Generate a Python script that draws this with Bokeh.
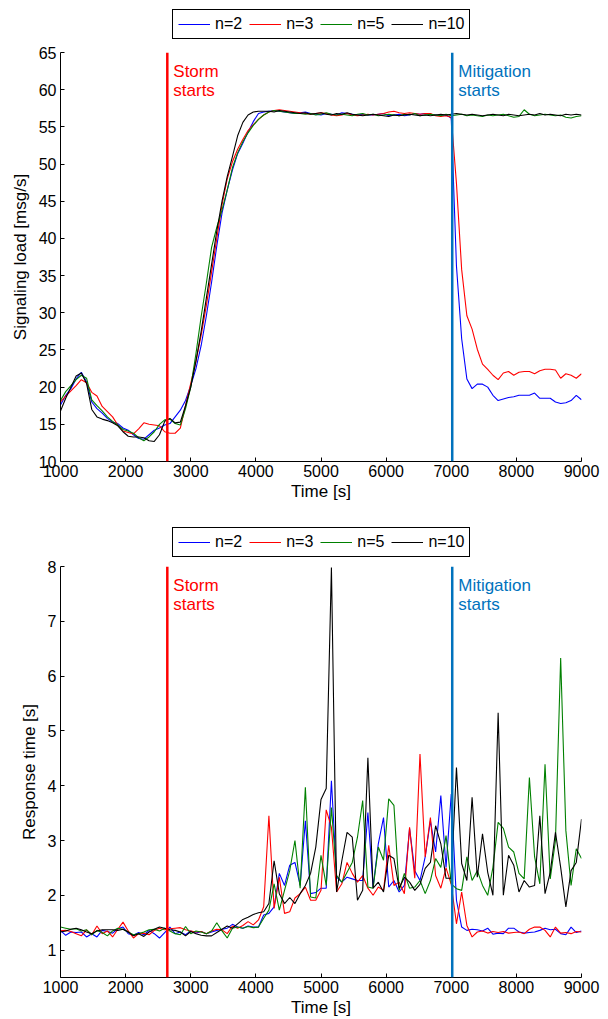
from bokeh.plotting import figure
from bokeh.models import Span, Label, Legend, LegendItem, FixedTicker, Range1d
from bokeh.layouts import column
from bokeh.embed import file_html
from bokeh.resources import INLINE

# ---------------- data ----------------
time_s = list(range(1000, 9001, 80))  # sampling grid (101 samples)
series_names = ["n=2", "n=3", "n=5", "n=10"]
x_ticks = [1000, 2000, 3000, 4000, 5000, 6000, 7000, 8000, 9000]
load_ticks = [10, 15, 20, 25, 30, 35, 40, 45, 50, 55, 60, 65]
resp_ticks = [1, 2, 3, 4, 5, 6, 7, 8]
storm_t = 2640
mitigation_t = 7015

load_n2 = [17.6, 18.9, 19.8, 21.1, 22.0, 20.7, 18.0, 17.1, 16.5, 15.8,
           15.3, 15.1, 14.5, 14.2, 13.6, 13.1, 13.0, 13.6, 14.2, 14.5,
           14.9, 15.1, 16.0, 16.9, 18.2, 20.2, 22.5, 25.6, 29.6, 34.1,
           39.0, 43.4, 46.5, 49.2, 51.4, 52.8, 54.3, 55.7, 56.8, 57.0,
           57.1, 57.2, 57.1, 57.0, 56.9, 56.8, 56.9, 57.0, 56.8, 56.7,
           56.6, 56.8, 56.7, 56.6, 56.9, 56.8, 56.7, 56.6, 56.7, 56.6,
           56.6, 56.7, 56.8, 56.5, 56.6, 56.7, 56.5, 56.6, 56.8, 56.7,
           56.8, 56.7, 56.6, 56.5, 56.6, 56.2, 36.3, 26.5, 21.1, 19.8,
           20.4, 20.4, 20.0, 18.9, 18.2, 18.4, 18.6, 18.7, 18.9, 18.9,
           18.9, 19.2, 18.5, 18.5, 18.5, 18.0, 17.8, 17.9, 18.2, 18.9,
           18.3]
load_n3 = [18.0, 18.8, 19.5, 20.2, 21.0, 20.6, 19.3, 18.8, 17.4, 16.7,
           16.0, 14.9, 14.1, 13.9, 13.7, 14.4, 15.2, 15.0, 14.9, 14.8,
           14.0, 13.8, 13.8, 14.5, 17.5, 20.5, 23.5, 27.0, 31.0, 35.5,
           40.0, 44.5, 48.0, 50.3, 52.0, 53.3, 54.5, 55.3, 56.0, 56.6,
           57.0, 57.2, 57.3, 57.2, 57.1, 57.0, 56.9, 56.8, 56.7, 56.8,
           56.9, 56.8, 56.6, 56.5, 56.6, 56.8, 56.6, 56.5, 56.6, 56.7,
           56.6, 56.7, 56.8, 57.0, 57.1, 56.9, 56.8, 56.9, 56.8, 56.7,
           56.8, 56.8, 56.5, 56.4, 56.5, 56.3, 47.4, 35.8, 29.6, 27.8,
           25.1, 23.1, 22.4, 21.6, 21.0, 21.9, 22.1, 21.6, 22.0, 22.1,
           22.1, 21.8, 22.2, 22.4, 22.4, 22.3, 21.2, 21.8, 21.6, 21.2,
           21.8]
load_n5 = [18.2, 19.4, 20.2, 21.0, 21.6, 21.2, 18.3, 17.5, 16.8, 16.0,
           15.4, 14.9, 14.3, 14.1, 13.8, 13.2, 12.8, 13.3, 14.0, 15.0,
           15.6, 15.7, 15.1, 14.9, 17.1, 20.0, 24.5, 29.5, 34.0, 38.8,
           41.5, 43.8, 46.5, 49.5, 51.5, 53.0, 54.2, 55.2, 56.0, 56.6,
           57.0, 57.2, 57.1, 57.0, 56.9, 56.8, 56.8, 56.7, 56.8, 56.6,
           56.7, 56.9, 56.7, 56.6, 56.7, 56.6, 56.5, 56.7, 56.8, 56.6,
           56.7, 56.5, 56.6, 56.7, 56.6, 56.5, 56.7, 56.6, 56.8, 56.5,
           56.6, 56.7, 56.6, 56.5, 56.7, 56.5, 56.6, 56.7, 56.5, 56.6,
           56.5, 56.4, 56.6, 56.5, 56.6, 56.7, 56.5, 56.3, 56.4, 57.3,
           56.7, 56.5, 56.6, 56.7, 56.6, 56.5, 56.6, 56.3, 56.2, 56.4,
           56.5]
load_n10 = [16.8, 18.5, 20.0, 21.5, 21.9, 20.5, 17.0, 16.0, 15.7, 15.5,
            15.2, 14.8, 14.0, 13.4, 13.3, 13.3, 13.2, 12.8, 12.7, 13.6,
            15.4, 15.8, 15.2, 15.3, 17.5, 20.0, 23.5, 27.5, 32.0, 36.5,
            41.0, 45.0, 48.3, 51.0, 53.8, 55.6, 56.6, 57.0, 57.1, 57.1,
            57.1, 57.0, 57.2, 57.1, 57.0, 56.9, 56.8, 56.9, 56.7, 56.8,
            56.9, 56.7, 56.6, 56.8, 56.7, 56.9, 56.7, 56.6, 56.5, 56.6,
            56.7, 56.6, 56.5, 56.4, 56.6, 56.5, 56.6, 56.7, 56.6, 56.5,
            56.6, 56.5, 56.6, 56.7, 56.6, 56.7, 56.8, 56.7, 56.6, 56.7,
            56.6, 56.5, 56.6, 56.7, 56.6, 56.5, 56.7, 56.6, 56.5, 56.6,
            56.7, 56.6, 56.8, 56.6, 56.7, 56.6, 56.5, 56.7, 56.6, 56.7,
            56.6]

resp_n2 = [1.36, 1.27, 1.33, 1.32, 1.33, 1.24, 1.30, 1.24, 1.36, 1.34,
           1.31, 1.39, 1.42, 1.30, 1.27, 1.32, 1.28, 1.36, 1.30, 1.22,
           1.32, 1.42, 1.30, 1.33, 1.28, 1.35, 1.31, 1.34, 1.30, 1.33,
           1.36, 1.38, 1.40, 1.47, 1.42, 1.40, 1.44, 1.42, 1.42, 1.64,
           1.67, 1.79, 2.40, 2.18, 2.55, 2.60, 2.18, 3.36, 2.03, 2.05,
           2.13, 2.13, 4.09, 2.33, 2.24, 2.33, 2.30, 2.27, 2.27, 3.51,
           2.15, 2.94, 3.42, 2.15, 2.27, 2.06, 2.18, 3.22, 2.45, 2.27,
           2.70, 3.36, 2.79, 3.82, 2.51, 3.85, 1.91, 1.42, 1.36, 1.38,
           1.37, 1.35, 1.40, 1.29, 1.31, 1.30, 1.40, 1.40, 1.33, 1.31,
           1.32, 1.33, 1.36, 1.40, 1.37, 1.38, 1.30, 1.28, 1.42, 1.32,
           1.35]
resp_n3 = [1.35, 1.36, 1.34, 1.30, 1.26, 1.37, 1.28, 1.44, 1.30, 1.35,
           1.24, 1.38, 1.51, 1.35, 1.22, 1.30, 1.31, 1.28, 1.36, 1.40,
           1.37, 1.39, 1.40, 1.41, 1.37, 1.35, 1.33, 1.34, 1.30, 1.35,
           1.38, 1.37, 1.30, 1.44, 1.40, 1.45, 1.52, 1.46, 1.55, 1.79,
           3.45, 1.76, 2.33, 1.67, 1.70, 1.95, 2.03, 2.15, 1.91, 1.91,
           2.09, 3.56, 3.24, 2.06, 2.21, 2.60, 2.40, 2.24, 2.36, 2.13,
           2.00, 2.15, 2.09, 2.91, 2.18, 2.24, 2.03, 3.24, 2.31, 4.58,
           2.70, 3.42, 2.36, 2.13, 2.50, 2.20, 1.48, 2.06, 1.45, 1.24,
           1.33, 1.35, 1.31, 1.34, 1.32, 1.34, 1.31, 1.32, 1.33, 1.30,
           1.38, 1.42, 1.42, 1.36, 1.24, 1.42, 1.31, 1.32, 1.30, 1.34,
           1.33]
resp_n5 = [1.42, 1.40, 1.38, 1.39, 1.35, 1.37, 1.28, 1.36, 1.32, 1.26,
           1.35, 1.40, 1.38, 1.33, 1.28, 1.30, 1.33, 1.37, 1.38, 1.35,
           1.40, 1.35, 1.30, 1.28, 1.43, 1.30, 1.35, 1.33, 1.30, 1.35,
           1.50, 1.35, 1.22, 1.40, 1.42, 1.40, 1.43, 1.41, 1.42, 1.58,
           1.73, 2.21, 1.73, 2.09, 2.45, 3.00, 2.13, 3.97, 1.97, 1.95,
           2.73, 2.18, 3.60, 2.36, 2.24, 2.42, 2.60, 3.06, 3.73, 2.15,
           2.13, 2.88, 2.64, 3.76, 3.64, 2.09, 2.40, 2.13, 2.15, 2.27,
           2.03, 2.27, 2.67, 2.51, 3.09, 2.21, 2.12, 2.09, 2.70, 2.27,
           2.45, 2.18, 2.00, 2.51, 3.33, 3.22, 2.88, 2.79, 2.40, 2.30,
           4.15, 2.70, 2.21, 4.39, 2.30, 3.00, 6.33, 3.18, 2.18, 2.85,
           2.67]
resp_n10 = [1.33, 1.35, 1.38, 1.40, 1.37, 1.33, 1.30, 1.35, 1.37, 1.37,
            1.37, 1.36, 1.38, 1.33, 1.26, 1.30, 1.25, 1.33, 1.38, 1.42,
            1.40, 1.37, 1.36, 1.33, 1.26, 1.34, 1.30, 1.27, 1.26, 1.26,
            1.32, 1.38, 1.44, 1.40, 1.48, 1.56, 1.60, 1.65, 1.68, 1.70,
            1.85, 2.63, 2.03, 1.85, 1.96, 1.85, 2.03, 2.18, 2.40, 2.88,
            3.75, 3.95, 7.98, 2.06, 2.63, 3.15, 3.06, 1.91, 2.09, 4.51,
            2.13, 2.24, 2.06, 2.73, 2.67, 2.13, 2.33, 2.24, 2.09, 2.20,
            2.49, 2.60, 3.27, 2.94, 2.31, 2.31, 4.33, 2.58, 2.27, 3.79,
            2.33, 3.12, 2.42, 2.00, 5.33, 2.00, 2.73, 2.55, 2.06, 2.27,
            2.15, 2.18, 3.45, 2.03, 2.42, 3.15, 2.51, 1.79, 2.45, 2.60,
            3.39]

# ---------------- style ----------------
FONT = "Liberation Sans"
COLORS = ["#0000FF", "#FF0000", "#008000", "#000000"]
STORM_COLOR = "#FF0000"
MITI_COLOR = "#0072BD"


def make_legend_fig(ys, height, legend_bottom):
    lf = figure(width=608, height=height, output_backend="svg", toolbar_location=None,
                x_range=Range1d(0, 1), y_range=Range1d(0, 1),
                x_axis_location=None, y_axis_location=None,
                min_border_left=0, min_border_right=0, min_border_top=0, min_border_bottom=0)
    lf.grid.visible = False
    lf.outline_line_color = None
    rs = []
    for vals, col in zip(ys, COLORS):
        rs.append(lf.line(time_s, vals, line_color=col, line_width=1.1, visible=False))
    items = [LegendItem(label=n, renderers=[r]) for n, r in zip(series_names, rs)]
    # the column aligns this frame with the plot frames below (frame starts at x=60)
    leg = Legend(items=items, orientation="horizontal", location=(112, legend_bottom),
                 glyph_width=32, glyph_height=16, label_standoff=5, spacing=7, padding=5,
                 margin=0, label_text_font=FONT, label_text_font_size="16px",
                 label_text_color="black",
                 border_line_color="black", border_line_width=1, border_line_alpha=1.0,
                 background_fill_color="white", background_fill_alpha=1.0)
    lf.add_layout(leg)
    return lf


def make_panel(ys, y0, y1, yticks, ylabel, height, bottom):
    p = figure(width=608, height=height, output_backend="svg", toolbar_location=None,
               x_range=Range1d(1000, 9000), y_range=Range1d(y0, y1),
               min_border_left=60, min_border_right=27,
               min_border_top=8, min_border_bottom=bottom)
    p.outline_line_color = None
    p.xgrid.visible = False
    p.ygrid.visible = False
    for vals, col in zip(ys, COLORS):
        p.line(time_s, vals, line_color=col, line_width=1.1)
    for ax in (p.xaxis[0], p.yaxis[0]):
        ax.major_tick_in = 4
        ax.major_tick_out = 0
        ax.minor_tick_line_color = None
        ax.axis_line_color = "black"
        ax.major_tick_line_color = "black"
        ax.major_label_text_font = FONT
        ax.major_label_text_font_size = "16px"
        ax.major_label_text_color = "black"
        ax.axis_label_text_font = FONT
        ax.axis_label_text_font_size = "17px"
        ax.axis_label_text_font_style = "normal"
        ax.axis_label_text_color = "black"
    p.xaxis[0].ticker = FixedTicker(ticks=x_ticks)
    p.yaxis[0].ticker = FixedTicker(ticks=yticks)
    p.xaxis[0].axis_label = "Time [s]"
    p.yaxis[0].axis_label = ylabel
    p.xaxis[0].major_label_standoff = 3
    p.xaxis[0].axis_label_standoff = 2
    p.yaxis[0].major_label_standoff = 4
    p.yaxis[0].axis_label_standoff = 6

    p.add_layout(Span(location=storm_t, dimension="height", line_color=STORM_COLOR, line_width=2.5))
    p.add_layout(Span(location=mitigation_t, dimension="height", line_color=MITI_COLOR, line_width=2.5))
    labels = [("Storm", storm_t, STORM_COLOR, -19), ("starts", storm_t, STORM_COLOR, -38),
              ("Mitigation", mitigation_t, MITI_COLOR, -19), ("starts", mitigation_t, MITI_COLOR, -38)]
    for txt, t, col, yo in labels:
        p.add_layout(Label(x=t, y=y1, x_offset=6, y_offset=yo, text=txt, text_color=col,
                           text_font=FONT, text_font_size="17px", text_baseline="alphabetic"))
    return p


load_series = [load_n2, load_n3, load_n5, load_n10]
resp_series = [resp_n2, resp_n3, resp_n5, resp_n10]

l1 = make_legend_fig(load_series, 44, 5)
p1 = make_panel(load_series, 10, 65, load_ticks, "Signaling load [msg/s]", 459, 40)
l2 = make_legend_fig(resp_series, 55, 1)
p2 = make_panel(resp_series, 0.5, 8, resp_ticks, "Response time [s]", 461, 42)

layout = column(l1, p1, l2, p2, spacing=0)
open("out.html", "w").write(file_html(layout, INLINE))
